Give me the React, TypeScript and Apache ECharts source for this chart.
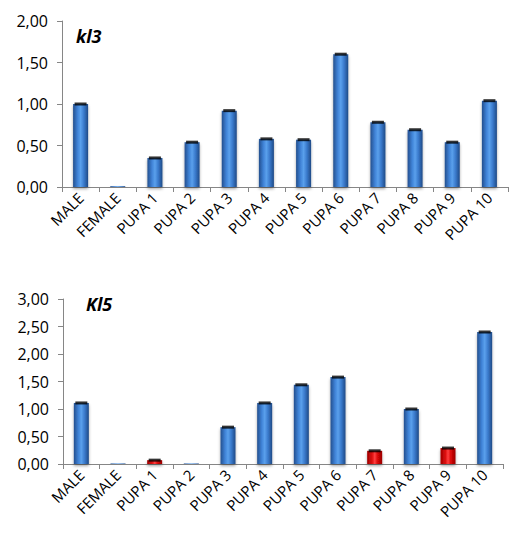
import React, { useEffect, useRef } from "react";
import * as echarts from "echarts";

const categories = ["MALE", "FEMALE", "PUPA 1", "PUPA 2", "PUPA 3", "PUPA 4", "PUPA 5", "PUPA 6", "PUPA 7", "PUPA 8", "PUPA 9", "PUPA 10"];
const kl3Values = [1.0, 0.01, 0.35, 0.54, 0.92, 0.58, 0.57, 1.6, 0.78, 0.69, 0.54, 1.04];
const kl5Values = [1.11, 0.01, 0.07, 0.01, 0.67, 1.11, 1.44, 1.58, 0.24, 1.0, 0.29, 2.4];
const kl5RedCategories = ["PUPA 1", "PUPA 7", "PUPA 9"];
const kl3Ticks = { min: 0, max: 2, interval: 0.5 };
const kl5Ticks = { min: 0, max: 3, interval: 0.5 };
const titles = ["kl3", "Kl5"];

const FONT = "Open Sans";

const blueGrad = new echarts.graphic.LinearGradient(0, 0, 1, 0, [
  { offset: 0, color: "#234f8e" },
  { offset: 0.3, color: "#3f82d6" },
  { offset: 0.5, color: "#5aa0ec" },
  { offset: 0.72, color: "#3a7acc" },
  { offset: 1, color: "#1f4a86" },
]);
const redGrad = new echarts.graphic.LinearGradient(0, 0, 1, 0, [
  { offset: 0, color: "#a00000" },
  { offset: 0.35, color: "#e01010" },
  { offset: 0.5, color: "#ff4040" },
  { offset: 0.7, color: "#d80808" },
  { offset: 1, color: "#9a0000" },
]);

function capData(vals: number[]) {
  return vals.map((v) => (v > 0.02 ? v : "-"));
}

export default function App() {
  const ref = useRef<HTMLDivElement>(null);
  useEffect(() => {
    const chart = echarts.init(ref.current!, null, { renderer: "svg" });
    const fmt = (v: number) => v.toFixed(2).replace(".", ",");
    const xAxisCommon = {
      type: "category" as const,
      data: categories,
      axisLine: { lineStyle: { color: "#868686", width: 1 } },
      axisTick: { show: true, length: 5, lineStyle: { color: "#868686" } },
      axisLabel: { rotate: 45, color: "#000", fontFamily: FONT, fontSize: 15, margin: 8, interval: 0 },
    };
    const yAxisCommon = {
      type: "value" as const,
      axisLine: { show: true, lineStyle: { color: "#868686", width: 1 } },
      axisTick: { show: true, length: 5, lineStyle: { color: "#868686" } },
      splitLine: { show: false },
      axisLabel: { color: "#000", fontFamily: FONT, fontSize: 16, margin: 14, formatter: fmt },
    };
    const barCommon = {
      type: "bar" as const,
      barWidth: 15,
      itemStyle: {
        color: blueGrad,
        shadowColor: "rgba(0,0,0,0.35)",
        shadowBlur: 3,
        shadowOffsetY: 2,
      },
    };
    const capCommon = {
      type: "scatter" as const,
      symbol: "rect",
      symbolSize: [12, 3],
      itemStyle: { color: "#000" },
      z: 5,
    };
    const titleStyle = { fontFamily: FONT, fontSize: 18, fontWeight: "bold", fontStyle: "italic", color: "#000" };
    chart.setOption({
      animation: false,
      title: [
        { text: titles[0], left: 71, top: 22, textStyle: titleStyle },
        { text: titles[1], left: 81, top: 290, textStyle: titleStyle },
      ],
      grid: [
        { left: 62, width: 446, top: 21, height: 166 },
        { left: 63, width: 440, top: 299, height: 165 },
      ],
      xAxis: [
        { ...xAxisCommon, gridIndex: 0 },
        { ...xAxisCommon, gridIndex: 1 },
      ],
      yAxis: [
        { ...yAxisCommon, gridIndex: 0, ...kl3Ticks },
        { ...yAxisCommon, gridIndex: 1, ...kl5Ticks },
      ],
      series: [
        { ...barCommon, xAxisIndex: 0, yAxisIndex: 0, data: kl3Values },
        { ...capCommon, xAxisIndex: 0, yAxisIndex: 0, data: capData(kl3Values) },
        {
          ...barCommon,
          xAxisIndex: 1,
          yAxisIndex: 1,
          data: kl5Values.map((v, i) =>
            kl5RedCategories.includes(categories[i]) ? { value: v, itemStyle: { color: redGrad } } : v
          ),
        },
        { ...capCommon, xAxisIndex: 1, yAxisIndex: 1, data: capData(kl5Values) },
      ],
    });
    return () => chart.dispose();
  }, []);
  return (
    <div
      ref={ref}
      style={{ position: "absolute", left: 0, top: 0, width: 509, height: 539, background: "#fff" }}
    />
  );
}
